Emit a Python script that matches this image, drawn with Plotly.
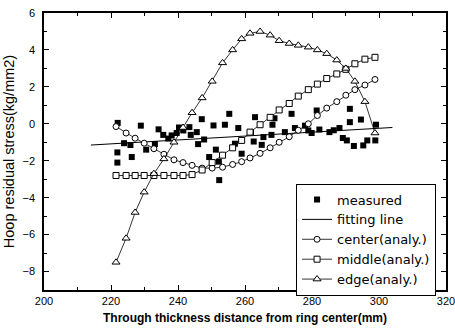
import plotly.graph_objects as go

# Analysis grid (mm) shared by the three analytical curves
x_analy = [221.5, 224.5, 227.2, 229.9, 232.8, 235.8, 238.8, 241.5, 244.2, 247.2,
           250.2, 253.3, 256.3, 259.0, 261.5, 264.5, 267.5, 270.2, 273.2, 275.9,
           278.9, 281.6, 284.4, 287.4, 290.1, 292.8, 295.8, 298.8]
y_center = [-0.15, -0.5, -0.78, -1.05, -1.35, -1.65, -1.95, -2.1, -2.25, -2.4,
            -2.4, -2.35, -2.2, -2.05, -1.85, -1.6, -1.3, -1.0, -0.7, -0.35,
            0.0, 0.45, 0.85, 1.2, 1.55, 1.85, 2.1, 2.4]
y_middle = [-2.8, -2.8, -2.8, -2.8, -2.8, -2.8, -2.8, -2.8, -2.75, -2.5,
            -2.1, -1.7, -1.3, -0.9, -0.45, -0.05, 0.35, 0.75, 1.1, 1.5,
            1.85, 2.15, 2.45, 2.7, 2.95, 3.25, 3.5, 3.6]
y_edge = [-7.5, -6.2, -4.8, -3.7, -2.7, -1.9, -1.0, -0.2, 0.6, 1.4,
          2.3, 3.3, 4.0, 4.6, 4.9, 5.0, 4.8, 4.5, 4.35, 4.25,
          4.15, 4.0, 3.8, 3.45, 3.0, 2.3, 1.2, -0.5]

# Measured values
x_meas = [222.0, 228.9, 234.2, 223.9, 225.8, 221.9, 221.9, 226.2, 230.5, 233.1,
          235.6, 237.1, 238.1, 239.6, 240.3, 241.6, 243.4, 243.8, 245.6, 246.0,
          247.1, 247.8,
          249.3, 250.6, 251.3, 252.2, 252.3, 254.0, 255.3, 257.0, 258.0, 259.0,
          261.8, 262.6, 263.0, 265.0, 265.5, 267.9, 268.8, 268.2, 271.9, 273.9,
          274.9,
          277.9, 278.9, 279.9, 281.4, 282.2, 285.2, 286.5, 288.2, 289.2, 290.4,
          291.3, 291.3, 292.5, 294.6, 295.3, 296.5, 298.9, 299.1]
y_meas = [0.05, -0.1, -0.3, -1.05, -1.15, -1.55, -2.1, -1.8, -1.4, -1.1,
          -0.6, -0.8, -0.63, -0.5, -0.2, -0.36, -0.18, -0.6, -0.45, -1.1,
          0.25, -0.85,
          -1.8, -0.09, -1.4, -2.05, -3.05, -0.05, 0.54, -1.08, -0.23, -1.62,
          -0.45, -0.96, 0.36, -1.14, -0.72, -0.6, 0.3, -0.05, -0.45, 0.54,
          -0.23,
          -0.1, -0.36, -0.5, 0.72, -0.31, -0.45, -0.35, -0.23, -0.77, -0.9,
          0.81, 0.09, -1.2, 0.23, -1.17, -0.9, -0.9, -0.05]

# Fitting line end points
x_fit = [214.0, 304.0]
y_fit = [-1.15, -0.2]

x_ticks = [200, 220, 240, 260, 280, 300, 320]
y_ticks = [6, 4, 2, 0, -2, -4, -6, -8]

open_marker = lambda sym, size: dict(symbol=sym, size=size, color="white",
                                     line=dict(width=1, color="black"))

fig = go.Figure()
fig.add_trace(go.Scatter(x=x_meas, y=y_meas, mode="markers", name="measured",
                         marker=dict(symbol="square", size=6, color="black")))
fig.add_trace(go.Scatter(x=x_fit, y=y_fit, mode="lines", name="fitting line",
                         line=dict(color="black", width=1)))
fig.add_trace(go.Scatter(x=x_analy, y=y_center, mode="lines+markers", name="center(analy.)",
                         line=dict(color="black", width=0.8),
                         marker=open_marker("circle", 6)))
fig.add_trace(go.Scatter(x=x_analy, y=y_middle, mode="lines+markers", name="middle(analy.)",
                         line=dict(color="black", width=0.8),
                         marker=open_marker("square", 6)))
fig.add_trace(go.Scatter(x=x_analy, y=y_edge, mode="lines+markers", name="edge(analy.)",
                         line=dict(color="black", width=0.8),
                         marker=open_marker("triangle-up", 7)))

axis_common = dict(showline=True, linecolor="black", linewidth=1.5, mirror="allticks",
                   ticks="inside", ticklen=5, tickwidth=1.2, tickcolor="black",
                   showgrid=False, zeroline=False, automargin=False,
                   ticklabeloverflow="allow",
                   tickfont=dict(family="Liberation Sans, Arial", size=11, color="black"))

fig.update_xaxes(range=[200, 320], tickvals=x_ticks, ticklabelstandoff=0,
                 minor=dict(ticks="inside", ticklen=3, dtick=10, tick0=200, tickcolor="black"),
                 title=dict(text="<b>Through thickness distance from ring center(mm)</b>",
                            font=dict(family="Liberation Sans, Arial", size=12, color="black"),
                            standoff=8),
                 **axis_common)
fig.update_yaxes(range=[-9, 6], tickvals=y_ticks, ticklabelstandoff=5,
                 minor=dict(ticks="inside", ticklen=3, dtick=1, tick0=0, tickcolor="black"),
                 title=dict(text="Hoop residual stress(kg/mm2)",
                            font=dict(family="Liberation Sans, Arial", size=14.5, color="black"),
                            standoff=4),
                 **axis_common)

fig.update_layout(
    width=455, height=331,
    margin=dict(l=44, r=9, t=13, b=41, autoexpand=False),
    paper_bgcolor="white", plot_bgcolor="white",
    showlegend=True,
    legend=dict(x=0.627, y=-0.02, xanchor="left", yanchor="bottom",
                bgcolor="white", bordercolor="black", borderwidth=1,
                font=dict(family="DejaVu Sans", size=13, color="black"),
                itemwidth=30, tracegroupgap=0),
)

fig.write_html("out.html", config={"displayModeBar": False},
               post_script="document.body.style.margin='0';document.body.style.overflow='hidden';")
